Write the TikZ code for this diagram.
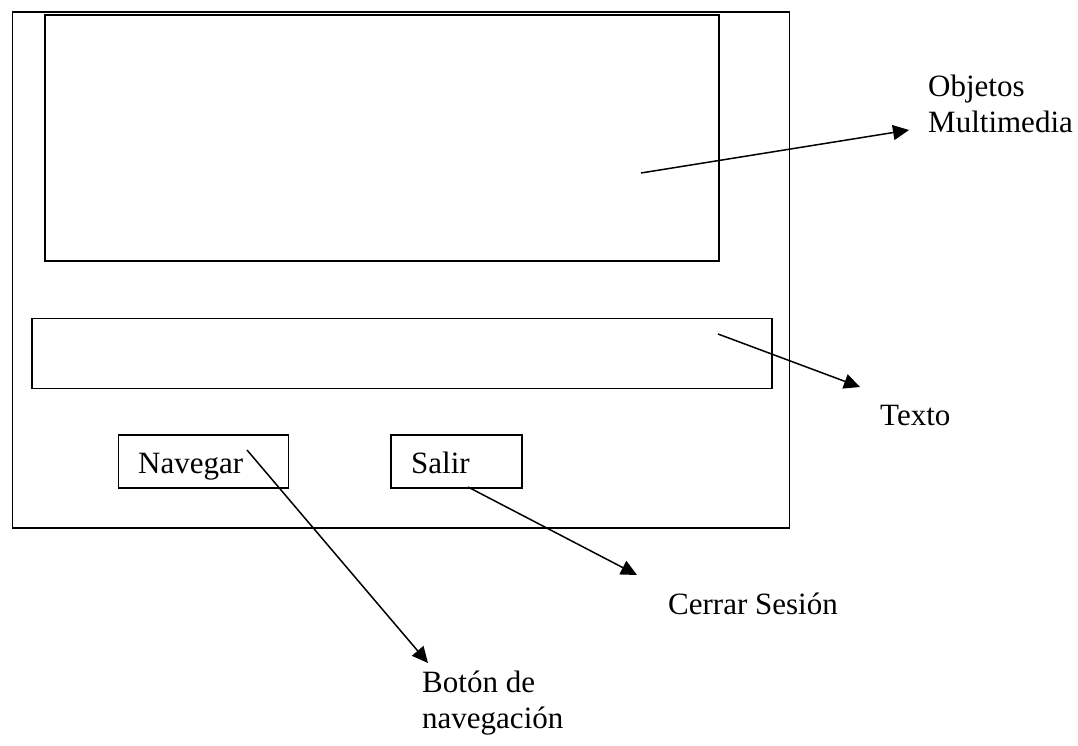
\documentclass[tikz,border=0pt]{standalone}
\usepackage{fontspec}
\setmainfont{Liberation Serif}
\usetikzlibrary{arrows.meta}
\begin{document}
\begin{tikzpicture}[x=1pt,y=-1pt,
  frame/.style={draw=black,line width=1.6pt,inner sep=0pt,anchor=north west},
  pointer/.style={draw=black,line width=1.5pt,-{Triangle[length=16pt,width=15pt]}},
  caption/.style={inner sep=0pt,anchor=base west,align=left,
    font=\fontsize{31}{36}\selectfont}]
  \useasboundingbox (0,0) rectangle (1078,746);

  % window and its panels
  \node[frame,minimum width=777pt,minimum height=516pt] (window) at (11.5,11) {};
  \node[frame,minimum width=674pt,minimum height=246pt] (media) at (44,14) {};
  \node[frame,minimum width=740pt,minimum height=70pt] (textbar) at (31,317.5) {};
  \node[frame,minimum width=170pt,minimum height=53pt] (nav) at (117.5,434) {};
  \node[frame,minimum width=131pt,minimum height=53pt] (quit) at (390,434) {};

  % button labels
  \node[caption] (navlbl) at (138,473) {Navegar};
  \node[caption] (quitlbl) at (411,473) {Salir};

  % callout captions (base anchor sits on the last line)
  \node[caption] (objlbl) at (928,133) {Objetos\\Multimedia};
  \node[caption] (txtlbl) at (880,425) {Texto};
  \node[caption] (closelbl) at (668,614) {Cerrar Sesión};
  \node[caption] (btnlbl) at (422,728) {Botón de\\navegación};

  % callout anchors
  \coordinate (objsrc) at (641,173);
  \coordinate (objtip) at (909,130);
  \coordinate (txtsrc) at (718,334);
  \coordinate (txttip) at (860,387);
  \coordinate (navsrc) at (247,450);
  \coordinate (navtip) at (428,663);
  \coordinate (quitsrc) at (468,487);
  \coordinate (quittip) at (637,575);

  % callout arrows
  \draw[pointer] (objsrc) -- (objtip);
  \draw[pointer] (txtsrc) -- (txttip);
  \draw[pointer] (navsrc) -- (navtip);
  \draw[pointer] (quitsrc) -- (quittip);
\end{tikzpicture}
\end{document}
